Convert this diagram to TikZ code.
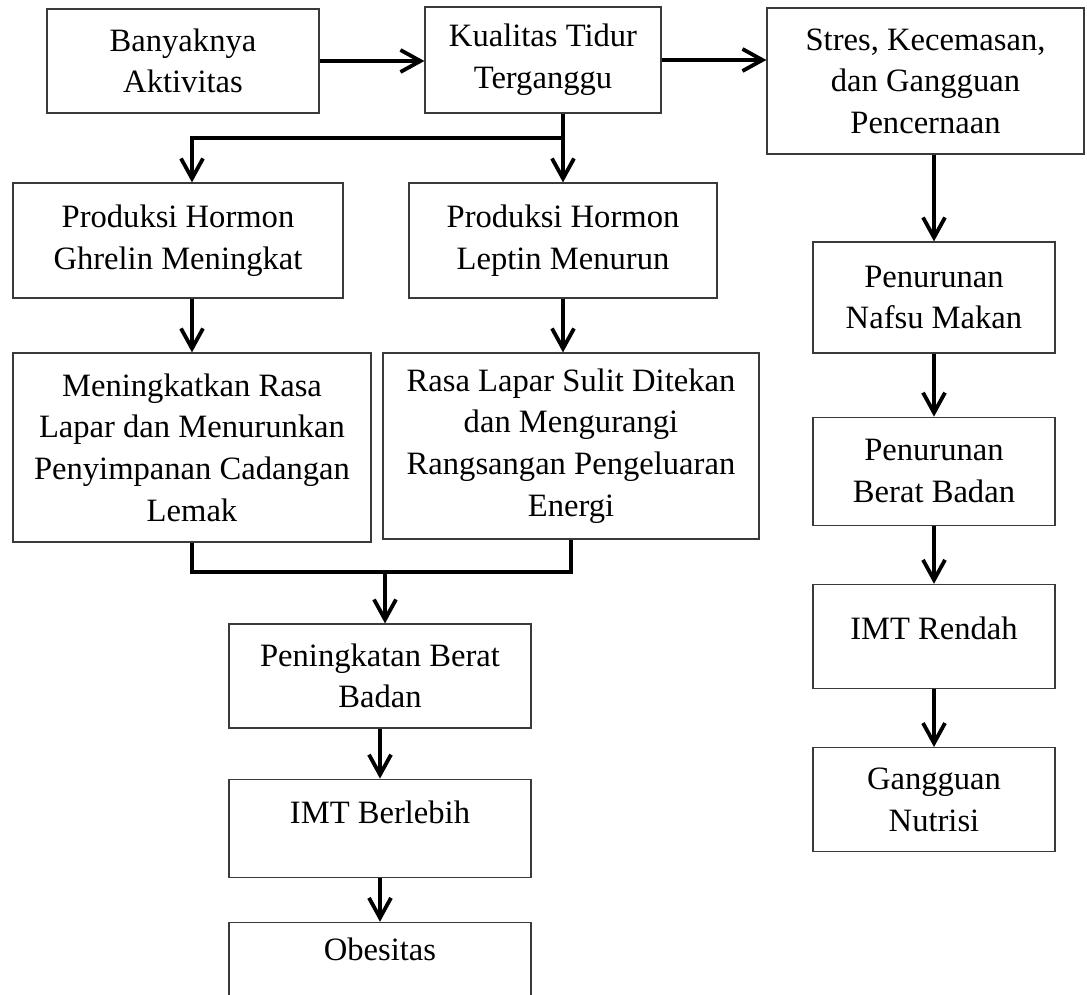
\documentclass[tikz,border=0pt]{standalone}
\usepackage{fontspec}
\setmainfont{Liberation Serif}
\usetikzlibrary{positioning, arrows.meta}
\definecolor{garisbox}{HTML}{3A3A3A}

\tikzset{
  kotak/.style={draw=garisbox, line width=0.6pt, inner sep=0pt, align=center},
  panah/.style={-{Straight Barb[length=10pt, width=11pt]}, line width=1.9pt},
  garis/.style={line width=1.9pt},
}

\begin{document}
\begin{tikzpicture}[x=0.5pt, y=-0.5pt, font=\fontsize{16.3pt}{20.8pt}\selectfont]
  \useasboundingbox (0,0) rectangle (1087,995);
  \clip (0,0) rectangle (1087,995);

  % baris atas
  \node[kotak, minimum width=136pt, minimum height=52pt] (aktivitas) at (183,61) {Banyaknya\\Aktivitas};
  \node[kotak, minimum width=118pt, minimum height=53pt] (tidur) at (543,60) {Kualitas Tidur\\Terganggu};
  \node[kotak, minimum width=158.5pt, minimum height=73pt] (stres) at (925.5,81) {Stres, Kecemasan,\\dan Gangguan\\Pencernaan};

  % jalur hormon
  \node[kotak, minimum width=165pt, minimum height=57.5pt] (ghrelin) at (178,240.5) {Produksi Hormon\\Ghrelin Meningkat};
  \node[kotak, minimum width=154pt, minimum height=57.5pt] (leptin) at (563,240.5) {Produksi Hormon\\Leptin Menurun};
  \node[kotak, minimum width=179pt, minimum height=94.5pt] (lapar) at (192,447.5)
    {Meningkatkan Rasa\\Lapar dan Menurunkan\\Penyimpanan Cadangan\\Lemak};
  \node[kotak, minimum width=188pt, minimum height=93pt] (energi) at (571,446)
    {Rasa Lapar Sulit Ditekan\\dan Mengurangi\\Rangsangan Pengeluaran\\Energi};

  % jalur obesitas
  \node[kotak, minimum width=151pt, minimum height=52pt] (naik) at (380,676) {Peningkatan Berat\\Badan};
  \node[kotak, minimum width=151pt, minimum height=49pt, text depth=16pt, below=25pt of naik] (imtlebih) {IMT Berlebih};
  \node[kotak, minimum width=151pt, minimum height=49pt, text depth=22pt, below=22pt of imtlebih] (obesitas) {Obesitas};

  % jalur gizi kurang
  \node[kotak, minimum width=121pt, minimum height=55.5pt] (nafsu) at (934,297.5) {Penurunan\\Nafsu Makan};
  \node[kotak, minimum width=121pt, minimum height=54pt, below=31.5pt of nafsu] (turun) {Penurunan\\Berat Badan};
  \node[kotak, minimum width=121pt, minimum height=52pt, text depth=8pt, below=29pt of turun] (imtrendah) {IMT Rendah};
  \node[kotak, minimum width=121pt, minimum height=52pt, below=29pt of imtrendah] (nutrisi) {Gangguan\\Nutrisi};

  % panah
  \draw[panah] (aktivitas.east) -- (aktivitas.east -| tidur.west);
  \draw[panah] (tidur.east) -- (tidur.east -| stres.west);
  \coordinate (pisah) at (563,138);
  \draw[panah] (tidur.south -| leptin.north) -- (leptin.north);
  \draw[panah] (pisah) -| (ghrelin.north -| lapar.north);
  \draw[panah] (ghrelin.south -| lapar.north) -- (lapar.north);
  \draw[panah] (leptin.south) -- (leptin.south |- energi.north);
  \coordinate (gabung) at (385,572);
  \draw[garis] (lapar.south) |- (gabung) -| (energi.south);
  \draw[panah] (gabung) -- (gabung |- naik.north);
  \draw[panah] (naik) -- (imtlebih);
  \draw[panah] (imtlebih) -- (obesitas);
  \draw[panah] (stres.south -| nafsu.north) -- (nafsu.north);
  \draw[panah] (nafsu) -- (turun);
  \draw[panah] (turun) -- (imtrendah);
  \draw[panah] (imtrendah) -- (nutrisi);
\end{tikzpicture}
\end{document}
